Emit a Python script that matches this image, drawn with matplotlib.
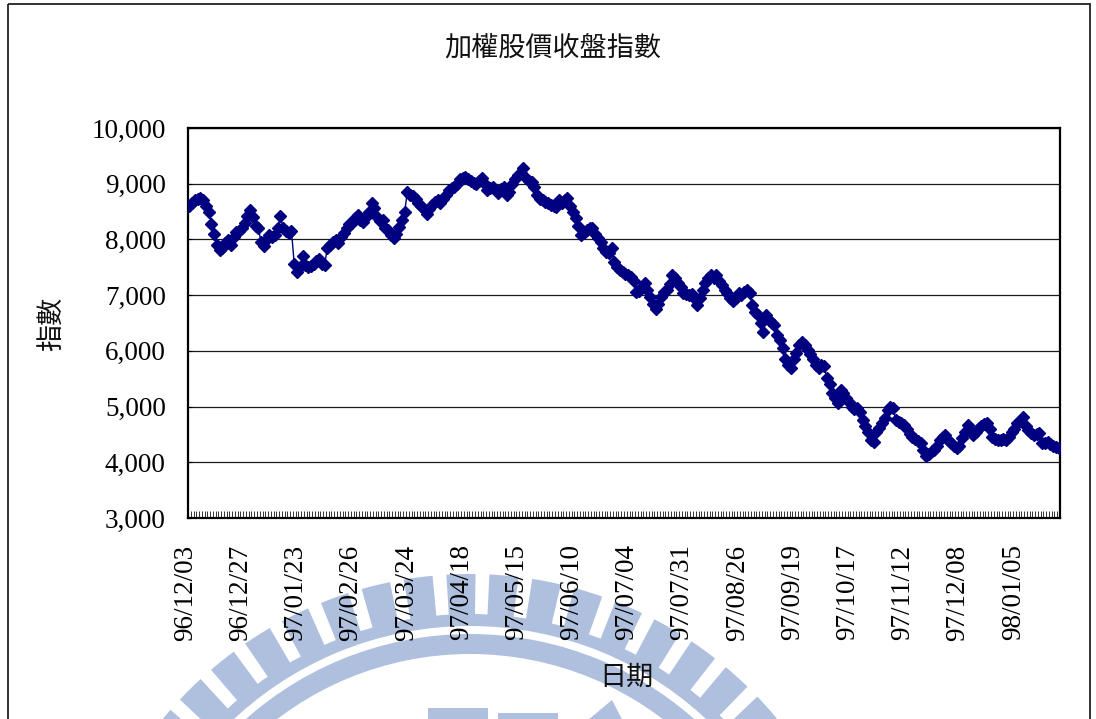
import numpy as np
import matplotlib
matplotlib.use("Agg")
import matplotlib.pyplot as plt
import matplotlib.ticker as mticker
import matplotlib.transforms as mtransforms
from matplotlib.patches import Wedge, Rectangle, Polygon

# ---------------- data ----------------
title = "加權股價收盤指數"
x_label = "日期"
y_label = "指數"

tick_labels = ["96/12/03", "96/12/27", "97/01/23", "97/02/26", "97/03/24",
               "97/04/18", "97/05/15", "97/06/10", "97/07/04", "97/07/31",
               "97/08/26", "97/09/19", "97/10/17", "97/11/12", "97/12/08",
               "98/01/05"]
label_every = 20

index_values = [
    # 96/12/03 -
    8600, 8650, 8700, 8730, 8740, 8700, 8600, 8500, 8280, 8100,
    7900, 7810, 7850, 7930, 7990, 7900, 8050, 8130, 8160, 8200,
    # 96/12/27 -
    8300, 8420, 8530, 8400, 8250, 8200, 7950, 7880, 8000, 8080,
    8050, 8080, 8200, 8420, 8200, 8150, 8110, 8150, 7560,
    # 97/01/23 -
    7420, 7500, 7700, 7550, 7500, 7520, 7560, 7620, 7650, 7560,
    7540, 7850, 7900, 7950, 7990, 7930, 8050, 8110, 8200, 8270,
    # 97/02/26 -
    8300, 8380, 8440, 8350, 8320, 8400, 8500, 8650, 8560, 8400,
    8330, 8350, 8200, 8170, 8080, 8030, 8100, 8220, 8350, 8500,
    # 97/03/24 -
    8850, 8800, 8780, 8720, 8650, 8600, 8550, 8450, 8550, 8620,
    8680, 8700, 8650, 8720, 8800, 8880, 8920, 8950, 9000, 9080,
    # 97/04/18 -
    9100, 9120, 9080, 9050, 9010, 9000, 9050, 9100, 9000, 8890,
    8930, 8940, 8880, 8830, 8900, 8940, 8800, 8850, 9000,
    # 97/05/15 -
    9080, 9150, 9200, 9280, 9100, 9050, 9030, 8950, 8800, 8720,
    8700, 8680, 8650, 8620, 8600, 8580, 8710, 8650, 8700, 8740,
    # 97/06/10 -
    8600, 8500, 8380, 8250, 8080, 8120, 8170, 8200, 8200, 8100,
    8030, 7950, 7850, 7780, 7760, 7850, 7600, 7510, 7450, 7420,
    # 97/07/04 -
    7380, 7360, 7330, 7250, 7060, 7080, 7150, 7220, 7100, 6970,
    6850, 6750, 6850, 6970, 7050, 7090, 7200, 7360, 7300, 7220,
    # 97/07/31 -
    7150, 7040, 7020, 7000, 7020, 6950, 6820, 6950, 7100, 7220,
    7300, 7360, 7310, 7360, 7250, 7180, 7100, 7040, 6950,
    # 97/08/26 -
    6900, 6950, 7040, 7000, 7050, 7090, 7040, 6820, 6700, 6640,
    6500, 6340, 6640, 6550, 6500, 6460, 6280, 6200, 6050, 5850,
    # 97/09/19 -
    5750, 5690, 5850, 5960, 6100, 6160, 6100, 6010, 5950, 5850,
    5750, 5700, 5750, 5720, 5510, 5400, 5240, 5150, 5060, 5300,
    # 97/10/17 -
    5250, 5150, 5080, 5000, 4950, 4970, 4900, 4760, 4650, 4540,
    4400, 4360, 4540, 4620, 4700, 4800, 4940, 4990, 4980, 4760,
    # 97/11/12 -
    4720, 4700, 4670, 4600, 4500, 4450, 4420, 4380, 4340, 4220,
    4120, 4150, 4200, 4220, 4300, 4400, 4450, 4490, 4400,
    # 97/12/08 -
    4340, 4300, 4250, 4300, 4430, 4550, 4670, 4580, 4490, 4550,
    4610, 4650, 4680, 4700, 4600, 4450, 4420, 4400, 4400, 4420,
    # 98/01/05 -
    4400, 4450, 4550, 4600, 4700, 4750, 4810, 4650, 4580, 4520,
    4490, 4500, 4520, 4340, 4350, 4360, 4330, 4300, 4270, 4250,
]

y_min, y_max, y_step = 3000, 10000, 1000

# ---------------- figure ----------------
W, H, DPI = 1096, 719, 100
fig = plt.figure(figsize=(W / DPI, H / DPI), dpi=DPI)
fig.patch.set_facecolor("white")

CJK = ["Noto Sans CJK TC", "DejaVu Sans"]
SERIF = ["Liberation Serif", "DejaVu Serif"]

# background watermark layer (pixel coordinates)
bg = fig.add_axes([0, 0, 1, 1], zorder=-5)
bg.set_xlim(0, W)
bg.set_ylim(H, 0)
bg.axis("off")
wm = "#AFC0DF"
cx, cy, R = 470, 972, 398
pitch, tooth = 6.2, 4.2
a = 0.0
while a < 360:
    bg.add_patch(Wedge((cx, cy), R, a, a + tooth, width=R - 352,
                       facecolor=wm, edgecolor="none"))
    a += pitch
bg.add_patch(Wedge((cx, cy), 358, 0, 360, width=12, facecolor=wm, edgecolor="none"))
bg.add_patch(Wedge((cx, cy), 338, 0, 360, width=20, facecolor=wm, edgecolor="none"))
bg.add_patch(Rectangle((428, 708), 60, 20, facecolor=wm, edgecolor="none"))
bg.add_patch(Rectangle((498, 713), 60, 20, facecolor=wm, edgecolor="none"))
bg.add_patch(Polygon([[582, 725], [612, 700], [625, 725]], closed=True,
                     facecolor=wm, edgecolor="none"))
# outer chart border
bg.add_patch(Rectangle((8, 4), 1082, 760, facecolor="none",
                       edgecolor="#222222", linewidth=1.3))

# main plot area
L, R_, T, B = 188, 1060, 128, 518
ax = fig.add_axes([L / W, 1 - B / H, (R_ - L) / W, (B - T) / H])
ax.set_facecolor("white")

n = len(index_values)
x = np.arange(n)
ax.plot(x, index_values, color="#000080", linewidth=1.0, marker="D",
        markersize=5.8, markerfacecolor="#000080", markeredgecolor="#000080",
        zorder=3)

ax.set_xlim(-0.5, n - 0.5)
ax.set_ylim(y_min, y_max)

# y axis
ax.set_yticks(np.arange(y_min, y_max + 1, y_step))
ax.yaxis.set_major_formatter(mticker.FuncFormatter(lambda v, p: f"{int(v):,}"))
ax.grid(axis="y", color="#1a1a1a", linewidth=0.9, zorder=1)
ax.tick_params(axis="y", direction="in", length=3, width=0.8, pad=16,
               labelsize=19.5, colors="black")

# x axis: labels every 20 categories, tick marks between every category
label_pos = np.arange(0, label_every * len(tick_labels), label_every)
ax.set_xticks(label_pos)
ax.set_xticklabels(tick_labels, rotation=90)
ax.set_xticks(np.arange(-0.5, n, 1.0), minor=True)
ax.tick_params(axis="x", which="major", length=0, pad=19, labelsize=19.5)
ax.tick_params(axis="x", which="minor", direction="in", length=5, width=0.7,
               color="#333333")
offset = mtransforms.ScaledTranslation(-4 / DPI, 0, fig.dpi_scale_trans)
for lab in ax.get_xticklabels() + ax.get_yticklabels():
    lab.set_fontfamily(SERIF)
for lab in ax.get_xticklabels():
    lab.set_transform(lab.get_transform() + offset)

for sp in ax.spines.values():
    sp.set_linewidth(1.6)
    sp.set_color("black")

# texts
fig.text(553 / W, 1 - 48 / H, title, ha="center", va="center",
         fontsize=19.5, family=CJK, fontweight="light", color="#111111")
fig.text(52 / W, 1 - 324 / H, y_label, ha="center", va="center",
         rotation=90, fontsize=19.5, family=CJK, fontweight="light", color="#111111")
fig.text(626 / W, 1 - 677 / H, x_label, ha="center", va="center",
         fontsize=19.5, family=CJK, fontweight="light", color="#111111")

fig.savefig("out.png", dpi=DPI)
